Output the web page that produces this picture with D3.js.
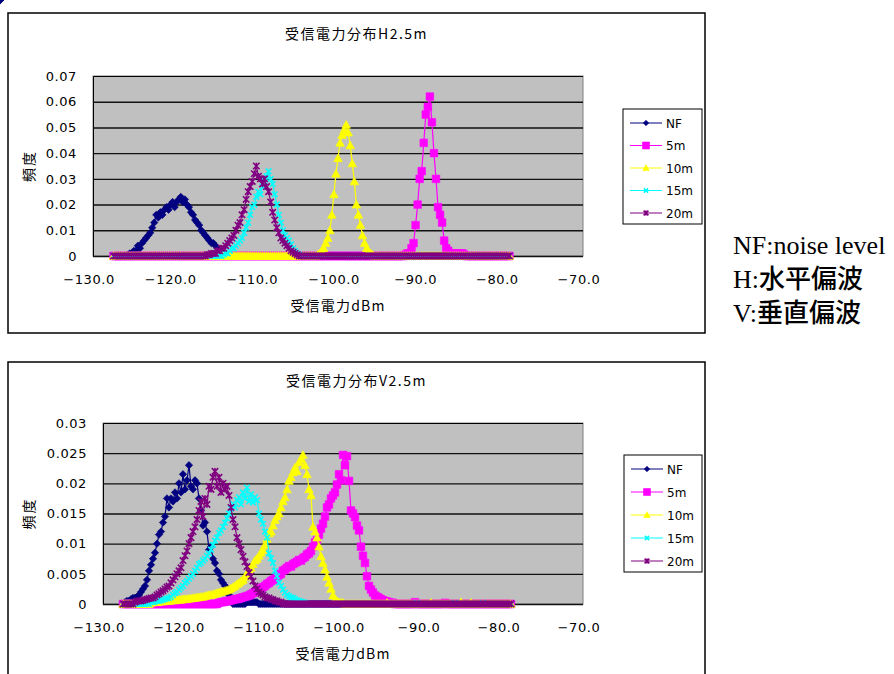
<!DOCTYPE html>
<html>
<head>
<meta charset="utf-8" />
<script src="https://d3js.org/d3.v7.min.js"></script>
<style>
  body { margin: 0; background: #fff; }
  svg { display: block; }
  .tick text, .num { font-family: "DejaVu Sans", sans-serif; font-size: 13px; fill: #000; letter-spacing: 0.6px; }
  .jp { font-family: "Noto Sans CJK JP", sans-serif; fill: #000; }
  .leg { font-family: "DejaVu Sans", sans-serif; font-size: 12px; fill: #000; }
</style>
</head>
<body>
<svg width="894" height="674"></svg>
<script>
// received power bins (dBm), shared by both charts
const dbm = [
  -127.5,-127.25,-127,-126.75,-126.5,-126.25,-126,-125.75,
  -125.5,-125.25,-125,-124.75,-124.5,-124.25,-124,-123.75,
  -123.5,-123.25,-123,-122.75,-122.5,-122.25,-122,-121.75,
  -121.5,-121.25,-121,-120.75,-120.5,-120.25,-120,-119.75,
  -119.5,-119.25,-119,-118.75,-118.5,-118.25,-118,-117.75,
  -117.5,-117.25,-117,-116.75,-116.5,-116.25,-116,-115.75,
  -115.5,-115.25,-115,-114.75,-114.5,-114.25,-114,-113.75,
  -113.5,-113.25,-113,-112.75,-112.5,-112.25,-112,-111.75,
  -111.5,-111.25,-111,-110.75,-110.5,-110.25,-110,-109.75,
  -109.5,-109.25,-109,-108.75,-108.5,-108.25,-108,-107.75,
  -107.5,-107.25,-107,-106.75,-106.5,-106.25,-106,-105.75,
  -105.5,-105.25,-105,-104.75,-104.5,-104.25,-104,-103.75,
  -103.5,-103.25,-103,-102.75,-102.5,-102.25,-102,-101.75,
  -101.5,-101.25,-101,-100.75,-100.5,-100.25,-100,-99.75,
  -99.5,-99.25,-99,-98.75,-98.5,-98.25,-98,-97.75,
  -97.5,-97.25,-97,-96.75,-96.5,-96.25,-96,-95.75,
  -95.5,-95.25,-95,-94.75,-94.5,-94.25,-94,-93.75,
  -93.5,-93.25,-93,-92.75,-92.5,-92.25,-92,-91.75,
  -91.5,-91.25,-91,-90.75,-90.5,-90.25,-90,-89.75,
  -89.5,-89.25,-89,-88.75,-88.5,-88.25,-88,-87.75,
  -87.5,-87.25,-87,-86.75,-86.5,-86.25,-86,-85.75,
  -85.5,-85.25,-85,-84.75,-84.5,-84.25,-84,-83.75,
  -83.5,-83.25,-83,-82.75,-82.5,-82.25,-82,-81.75,
  -81.5,-81.25,-81,-80.75,-80.5,-80.25,-80,-79.75,
  -79.5,-79.25,-79
];

const seriesNames = ["NF", "5m", "10m", "15m", "20m"];

const xTicks = [-130, -120, -110, -100, -90, -80, -70];
const xTickLabels = ["\u2212130.0", "\u2212120.0", "\u2212110.0", "\u2212100.0", "\u221290.0", "\u221280.0", "\u221270.0"];

const yTicksH = [0, 0.01, 0.02, 0.03, 0.04, 0.05, 0.06, 0.07];
const yTickLabelsH = ["0", "0.01", "0.02", "0.03", "0.04", "0.05", "0.06", "0.07"];
const yTicksV = [0, 0.005, 0.01, 0.015, 0.02, 0.025, 0.03];
const yTickLabelsV = ["0", "0.005", "0.01", "0.015", "0.02", "0.025", "0.03"];

// ---- H polarisation (top chart) ----
const nfH = [
  0,0,0,0,0,0,0,0.0005,
  0.001,0.001,0.002,0.002,0.004,0.003,0.005,0.006,
  0.007,0.008,0.009,0.011,0.013,0.016,0.015,0.017,
  0.016,0.018,0.019,0.018,0.020,0.021,0.019,0.021,
  0.022,0.023,0.021,0.022,0.020,0.019,0.017,0.016,
  0.014,0.013,0.012,0.010,0.009,0.008,0.007,0.006,
  0.005,0.005,0.004,0.003,0.002,0.001,0.0005,0,
  0,0,0,0,0,0,0,0,
  0,0,0,0,0,0,0,0,
  0,0,0,0,0,0,0,0,
  0,0,0,0,0,0,0,0,
  0,0,0,0,0,0,0,0,
  0,0,0,0,0,0,0,0,
  0,0,0,0,0,0,0,0,
  0,0,0,0,0,0,0,0,
  0,0,0,0,0,0,0,0,
  0,0,0,0,0,0,0,0,
  0,0,0,0,0,0,0,0,
  0,0,0,0,0,0,0,0,
  0,0,0,0,0,0,0,0,
  0,0,0,0,0,0,0,0,
  0,0,0,0,0,0,0,0,
  0,0,0,0,0,0,0,0,
  0,0,0
];
const m5H = [
  0,0,0,0,0,0,0,0,
  0,0,0,0,0,0,0,0,
  0,0,0,0,0,0,0,0,
  0,0,0,0,0,0,0,0,
  0,0,0,0,0,0,0,0,
  0,0,0,0,0,0,0,0,
  0,0,0,0,0,0,0,0,
  0,0,0,0,0,0,0,0,
  0,0,0,0,0,0,0,0,
  0,0,0,0,0,0,0,0,
  0,0,0,0,0,0,0,0,
  0,0,0,0,0,0,0,0,
  0,0,0,0,0,0,0,0,
  0,0,0,0,0,0,0,0,
  0,0,0,0,0,0,0,0,
  0,0,0,0,0,0,0,0,
  0,0,0,0,0,0,0,0,
  0,0,0,0,0,0,0,0.0005,
  0.001,0.001,0.003,0.005,0.012,0.020,0.030,0.033,
  0.044,0.055,0.058,0.062,0.052,0.040,0.030,0.019,
  0.016,0.013,0.006,0.003,0.002,0.001,0.001,0.001,
  0.001,0.001,0.001,0.001,0.0005,0,0,0,
  0,0,0,0,0,0,0,0,
  0,0,0,0,0,0,0,0,
  0,0,0
];
const m10H = [
  0,0,0,0,0,0,0,0,
  0,0,0,0,0,0,0,0,
  0,0,0,0,0,0,0,0,
  0,0,0,0,0,0,0,0,
  0,0,0,0,0,0,0,0,
  0,0,0,0,0,0,0,0,
  0,0,0,0,0,0,0,0,
  0,0,0,0,0,0,0,0,
  0,0,0,0,0,0,0,0,
  0,0,0,0,0,0,0,0,
  0,0,0,0,0,0,0,0,
  0,0,0,0,0,0,0,0,
  0,0,0,0,0.0005,0.001,0.002,0.003,
  0.005,0.007,0.010,0.016,0.024,0.032,0.038,0.044,
  0.047,0.049,0.051,0.048,0.043,0.036,0.029,0.020,
  0.016,0.012,0.008,0.005,0.003,0.002,0.001,0.0005,
  0,0,0,0,0,0,0,0,
  0,0,0,0,0,0,0,0,
  0,0,0,0,0,0,0,0,
  0,0,0,0,0,0,0,0,
  0,0,0,0,0,0,0,0,
  0,0,0,0,0,0,0,0,
  0,0,0,0,0,0,0,0,
  0,0,0,0,0,0,0,0,
  0,0,0
];
const m15H = [
  0,0,0,0,0,0,0,0,
  0,0,0,0,0,0,0,0,
  0,0,0,0,0,0,0,0,
  0,0,0,0,0,0,0,0,
  0,0,0,0,0,0,0,0,
  0,0,0,0,0,0,0,0,
  0,0,0,0,0,0,0.0005,0.001,
  0.001,0.002,0.003,0.003,0.004,0.005,0.006,0.007,
  0.009,0.011,0.013,0.016,0.019,0.020,0.023,0.025,
  0.024,0.027,0.029,0.031,0.033,0.030,0.028,0.024,
  0.020,0.016,0.013,0.010,0.008,0.007,0.006,0.0045,
  0.003,0.002,0.001,0.0005,0,0,0,0,
  0,0,0,0,0,0,0,0,
  0,0,0,0,0,0,0,0,
  0,0,0,0,0,0,0,0,
  0,0,0,0,0,0,0,0,
  0,0,0,0,0,0,0,0,
  0,0,0,0,0,0,0,0,
  0,0,0,0,0,0,0,0,
  0,0,0,0,0,0,0,0,
  0,0,0,0,0,0,0,0,
  0,0,0,0,0,0,0,0,
  0,0,0,0,0,0,0,0,
  0,0,0,0,0,0,0,0,
  0,0,0
];
const m20H = [
  0,0,0,0,0,0,0,0,
  0,0,0,0,0,0,0,0,
  0,0,0,0,0,0,0,0,
  0,0,0,0,0,0,0,0,
  0,0,0,0,0,0,0,0,
  0,0,0,0,0,0,0.0005,0.0005,
  0.001,0.001,0.001,0.002,0.002,0.003,0.003,0.004,
  0.005,0.006,0.007,0.008,0.010,0.012,0.013,0.016,
  0.018,0.022,0.025,0.027,0.029,0.032,0.035,0.031,
  0.030,0.028,0.030,0.027,0.025,0.021,0.017,0.014,
  0.011,0.009,0.007,0.006,0.005,0.004,0.003,0.002,
  0.0015,0.001,0.0005,0,0,0,0,0,
  0,0,0,0,0,0,0,0,
  0,0,0,0,0,0,0,0,
  0,0,0,0,0,0,0,0,
  0,0,0,0,0,0,0,0,
  0,0,0,0,0,0,0,0,
  0,0,0,0,0,0,0,0,
  0,0,0,0,0,0,0,0,
  0,0,0,0,0,0,0,0,
  0,0,0,0,0,0,0,0,
  0,0,0,0,0,0,0,0,
  0,0,0,0,0,0,0,0,
  0,0,0,0,0,0,0,0,
  0,0,0
];

// ---- V polarisation (bottom chart) ----
const nfV = [
  0,0.0003,0.0005,0.0005,0.0008,0.001,0.001,0.0012,
  0.0015,0.002,0.0025,0.003,0.004,0.0055,0.0065,0.0075,
  0.0085,0.010,0.0115,0.012,0.0135,0.0145,0.0175,0.016,
  0.0175,0.017,0.0185,0.0175,0.020,0.0185,0.0215,0.019,
  0.0205,0.023,0.0195,0.019,0.0205,0.020,0.0175,0.0155,
  0.013,0.0135,0.012,0.009,0.0095,0.0075,0.0068,0.0055,
  0.005,0.004,0.0035,0.003,0.0027,0.0015,0.0005,0,
  0,0,0,0,0,0,0.0003,0.0003,
  0.0003,0.0003,0.0003,0.0003,0,0,0,0,
  0,0,0,0,0,0,0,0,
  0,0,0,0,0,0,0,0,
  0,0,0,0,0,0,0,0,
  0,0,0,0,0,0,0,0,
  0,0,0,0,0,0,0,0,
  0,0,0,0,0,0,0,0,
  0,0,0,0,0,0,0,0,
  0,0,0,0,0,0,0,0,
  0,0,0,0,0,0,0,0,
  0,0,0,0,0,0,0,0,
  0,0,0,0,0,0,0,0,
  0,0,0,0,0,0,0,0,
  0,0,0,0,0,0,0,0,
  0,0,0,0,0,0,0,0,
  0,0,0,0,0,0,0,0,
  0,0,0
];
const m5V = [
  0,0,0,0,0,0,0,0,
  0,0,0,0,0,0,0,0,
  0,0,0,0,0,0,0,0,
  0,0,0,0,0,0,0,0,
  0,0,0,0,0,0,0,0,
  0,0,0,0,0,0,0,0,
  0.0002,0.0003,0.0003,0.0004,0.0005,0.0005,0.0006,0.0007,
  0.0008,0.0008,0.0009,0.001,0.0011,0.0012,0.0013,0.0014,
  0.0016,0.0018,0.002,0.0022,0.0024,0.0026,0.0028,0.003,
  0.0033,0.0035,0.0038,0.004,0.0042,0.0046,0.0048,0.005,
  0.0055,0.0057,0.006,0.0063,0.0062,0.0066,0.0068,0.007,
  0.0073,0.0072,0.0076,0.0078,0.0082,0.0084,0.0088,0.0095,
  0.0102,0.0106,0.0115,0.0125,0.0133,0.0145,0.016,0.0165,
  0.0175,0.018,0.0185,0.0198,0.0215,0.0205,0.0247,0.023,
  0.0245,0.0204,0.0155,0.015,0.0144,0.013,0.0122,0.0095,
  0.008,0.0068,0.0046,0.003,0.0024,0.0019,0.0014,0.0012,
  0.001,0.0008,0.0006,0.0005,0.0004,0.0003,0.0002,0.0002,
  0,0,0,0,0,0,0,0,
  0,0,0.0003,0,0,0,0,0,
  0,0,0,0,0,0,0,0,
  0,0.0002,0,0,0,0,0,0,
  0,0,0,0,0,0,0,0,
  0,0,0,0,0,0,0,0,
  0,0,0,0,0,0,0,0,
  0,0,0
];
const m10V = [
  0,0,0,0,0,0,0,0,
  0,0,0,0,0,0,0.0002,0.0003,
  0.0003,0.0003,0.0004,0.0004,0.0004,0.0005,0.0005,0.0005,
  0.0006,0.0006,0.0006,0.0007,0.0007,0.0007,0.0008,0.0008,
  0.0008,0.0009,0.0009,0.001,0.001,0.0011,0.0011,0.0012,
  0.0012,0.0013,0.0014,0.0015,0.0015,0.0016,0.0017,0.0018,
  0.0019,0.002,0.0021,0.0022,0.0023,0.0024,0.0026,0.0028,
  0.003,0.0033,0.0035,0.0038,0.004,0.0045,0.005,0.0057,
  0.006,0.0066,0.0072,0.0075,0.008,0.0085,0.009,0.0098,
  0.0108,0.0117,0.012,0.013,0.0139,0.0145,0.015,0.016,
  0.017,0.0177,0.019,0.0204,0.021,0.0218,0.0226,0.022,
  0.0235,0.024,0.0247,0.023,0.0215,0.019,0.018,0.0128,
  0.012,0.011,0.0095,0.0079,0.0068,0.0057,0.0045,0.0035,
  0.0025,0.0014,0.0008,0.0005,0.0003,0.0002,0.0002,0,
  0,0,0,0,0,0,0,0,
  0,0,0,0,0,0,0,0,
  0,0,0,0,0.0002,0,0,0,
  0,0,0,0,0,0,0,0,
  0,0,0,0,0,0,0,0,
  0,0,0.0002,0,0,0,0,0,
  0,0,0,0,0,0,0,0,
  0,0.0003,0,0,0,0,0.0002,0,
  0,0,0,0,0,0,0,0,
  0,0,0,0,0,0,0,0,
  0,0,0
];
const m15V = [
  0,0,0,0,0,0,0,0,
  0,0,0,0,0,0,0.0003,0.0003,
  0.0004,0.0005,0.0005,0.0006,0.0007,0.0008,0.0009,0.001,
  0.0012,0.0015,0.0018,0.002,0.0024,0.0027,0.003,0.0035,
  0.0038,0.0042,0.0046,0.005,0.0055,0.006,0.0066,0.0068,
  0.0072,0.0075,0.008,0.0084,0.009,0.0098,0.0105,0.011,
  0.0118,0.0122,0.0128,0.0135,0.0142,0.015,0.0158,0.0166,
  0.016,0.0172,0.0177,0.0165,0.0185,0.0175,0.0193,0.017,
  0.0182,0.0168,0.0177,0.0172,0.015,0.014,0.0133,0.012,
  0.011,0.0084,0.0076,0.0068,0.0055,0.0046,0.0035,0.003,
  0.0024,0.0019,0.0015,0.0013,0.0011,0.001,0.0008,0.0006,
  0.0005,0.0004,0.0003,0.0002,0,0,0,0,
  0,0,0,0,0,0,0,0,
  0,0,0,0,0,0,0,0,
  0,0,0,0,0,0,0,0,
  0,0,0,0,0,0,0,0,
  0,0,0,0,0,0,0,0,
  0,0,0,0,0,0,0,0,
  0,0,0,0.0002,0,0,0,0,
  0,0,0,0,0,0,0,0,
  0,0,0,0,0,0,0.0002,0,
  0,0,0,0,0,0,0,0,
  0,0,0,0,0.0002,0,0,0,
  0,0,0,0,0,0,0,0,
  0,0,0
];
const m20V = [
  0,0,0,0,0,0,0.0003,0.0005,
  0.0005,0.0005,0.0006,0.0007,0.0008,0.0009,0.001,0.001,
  0.0012,0.0015,0.0017,0.002,0.0022,0.0025,0.0028,0.003,
  0.0035,0.004,0.0045,0.005,0.0055,0.006,0.0072,0.008,
  0.0088,0.010,0.011,0.012,0.0128,0.014,0.0155,0.017,
  0.0145,0.0175,0.0165,0.0195,0.019,0.021,0.022,0.0195,
  0.021,0.0185,0.020,0.019,0.0195,0.018,0.016,0.014,
  0.0128,0.011,0.010,0.009,0.0079,0.007,0.0062,0.0052,
  0.0046,0.0038,0.003,0.0025,0.002,0.0017,0.0015,0.0012,
  0.001,0.001,0.0008,0.0007,0.0005,0.0005,0.0003,0.0003,
  0,0,0,0,0,0,0,0,
  0,0,0,0,0,0,0,0,
  0,0,0,0,0,0,0,0,
  0,0,0,0,0,0,0,0,
  0,0,0,0,0,0,0,0,
  0,0,0,0,0,0,0,0,
  0,0,0,0,0,0,0,0,
  0,0,0,0,0,0,0,0,
  0,0,0,0,0,0,0,0,
  0,0,0,0,0,0,0,0,
  0,0,0,0,0,0,0,0,
  0,0,0,0,0,0,0,0,
  0,0,0,0,0,0,0,0,
  0,0,0,0,0,0,0,0,
  0,0,0
];

// styles per series (Excel 97 defaults)
const colors = ["#000080", "#FF00FF", "#FFFF00", "#00FFFF", "#800080"];
const shapes = ["diamond", "square", "triangle", "x", "star"];
const sizes = [3.7, 3.8, 4.3, 2.8, 3.2];

function shapePath(kind, s) {
  switch (kind) {
    case "diamond": return `M0,${-s}L${s},0L0,${s}L${-s},0Z`;
    case "square": return `M${-s},${-s}H${s}V${s}H${-s}Z`;
    case "triangle": return `M0,${-s}L${s},${s * 0.8}L${-s},${s * 0.8}Z`;
    case "x": return `M${-s},${-s}L${s},${s}M${-s},${s}L${s},${-s}`;
    case "star": return `M${-s},${-s}L${s},${s}M${-s},${s}L${s},${-s}M0,${-s}V${s}`;
  }
}
function styleMarker(sel, i) {
  const open = shapes[i] === "x" || shapes[i] === "star";
  sel.attr("fill", open ? "none" : colors[i])
    .attr("stroke", colors[i])
    .attr("stroke-width", open ? 1.6 : 0.6);
}

const svg = d3.select("svg");

const charts = [
  { title: "受信電力分布H2.5m", box: { x: 8, y: 13, w: 697, h: 320 },
    plot: { x: 93, y: 76, w: 490, h: 180 }, yMax: 0.07,
    yTicks: yTicksH, yLabels: yTickLabelsH,
    series: [nfH, m5H, m10H, m15H, m20H], legend: { x: 623, y: 109, w: 79, h: 115 } },
  { title: "受信電力分布V2.5m", box: { x: 8, y: 362, w: 697, h: 330 },
    plot: { x: 103, y: 423, w: 480, h: 181 }, yMax: 0.03,
    yTicks: yTicksV, yLabels: yTickLabelsV,
    series: [nfV, m5V, m10V, m15V, m20V], legend: { x: 624, y: 455, w: 78, h: 117 } }
];

charts.forEach(c => {
  const p = c.plot;
  // outer chart frame
  svg.append("rect")
    .attr("x", c.box.x).attr("y", c.box.y).attr("width", c.box.w).attr("height", c.box.h)
    .attr("fill", "#fff").attr("stroke", "#000").attr("stroke-width", 1.5);

  const x = d3.scaleLinear().domain([-130, -70]).range([p.x, p.x + p.w]);
  const y = d3.scaleLinear().domain([0, c.yMax]).range([p.y + p.h, p.y]);

  // plot area
  svg.append("rect")
    .attr("x", p.x).attr("y", p.y).attr("width", p.w).attr("height", p.h)
    .attr("fill", "#C0C0C0").attr("stroke", "#808080").attr("stroke-width", 1);

  // y axis with gridlines
  const yAxisG = svg.append("g")
    .attr("transform", `translate(${p.x},0)`)
    .call(d3.axisLeft(y).tickValues(c.yTicks)
      .tickFormat((d, i) => c.yLabels[i])
      .tickSize(-p.w).tickPadding(16));
  yAxisG.select(".domain").attr("stroke", "#000");
  yAxisG.selectAll(".tick line")
    .attr("stroke", "#111").attr("stroke-width", 1.4)
    .attr("display", d => (d === c.yMax ? "none" : null));

  // x tick labels (no tick marks in the original)
  svg.selectAll(null).data(xTicks).join("text")
    .attr("class", "num")
    .attr("x", d => x(d) - 4)
    .attr("y", p.y + p.h + 28)
    .attr("text-anchor", "middle")
    .text((d, i) => xTickLabels[i]);

  // titles
  svg.append("text").attr("class", "jp")
    .attr("x", c.box.x + c.box.w / 2).attr("y", p.y - 37)
    .attr("text-anchor", "middle").style("font-size", "14px").style("letter-spacing", "1.5px")
    .text(c.title);
  svg.append("text").attr("class", "jp")
    .attr("x", p.x + p.w / 2).attr("y", p.y + p.h + 55)
    .attr("text-anchor", "middle").style("font-size", "14px").style("letter-spacing", "1.2px")
    .text("受信電力dBm");
  svg.append("text").attr("class", "jp")
    .attr("transform", `translate(34,${p.y + p.h / 2}) rotate(-90)`)
    .attr("text-anchor", "middle").style("font-size", "14px").style("letter-spacing", "2px")
    .text("頻度");

  // series
  const line = d3.line().x(d => x(d[0])).y(d => y(d[1]));
  c.series.forEach((vals, i) => {
    const pts = dbm.map((d, k) => [d, vals[k]]);
    svg.append("path").datum(pts)
      .attr("d", line).attr("fill", "none")
      .attr("stroke", colors[i]).attr("stroke-width", 1.2);
    svg.append("g").selectAll("path").data(pts).join("path")
      .attr("transform", d => `translate(${x(d[0])},${y(d[1])})`)
      .attr("d", shapePath(shapes[i], sizes[i]))
      .call(styleMarker, i);
  });

  // legend
  const L = c.legend;
  svg.append("rect").attr("x", L.x).attr("y", L.y).attr("width", L.w).attr("height", L.h)
    .attr("fill", "#fff").attr("stroke", "#000").attr("stroke-width", 1);
  const ly = d3.scaleLinear().domain([0, 4]).range([L.y + 14, L.y + L.h - 11]);
  seriesNames.forEach((name, i) => {
    const yy = ly(i);
    svg.append("line").attr("x1", L.x + 7).attr("x2", L.x + 39).attr("y1", yy).attr("y2", yy)
      .attr("stroke", colors[i]).attr("stroke-width", 1);
    svg.append("path").attr("transform", `translate(${L.x + 23},${yy})`)
      .attr("d", shapePath(shapes[i], i === 1 ? 3.5 : sizes[i] * 0.75))
      .call(styleMarker, i);
    svg.append("text").attr("class", "leg")
      .attr("x", L.x + 43).attr("y", yy + 4.5).text(name);
  });
});

// side note
const notes = [["NF:", "noise level"], ["H:", "水平偏波"], ["V:", "垂直偏波"]];
notes.forEach((n, i) => {
  const t = svg.append("text").attr("x", 733).attr("y", 254 + i * 34)
    .style("font-size", "26px").style("fill", "#000");
  t.append("tspan").style("font-family", "'Liberation Serif', serif").text(n[0]);
  t.append("tspan")
    .style("font-family", i === 0 ? "'Liberation Serif', serif" : "'Noto Sans CJK JP', sans-serif")
    .style("font-weight", i === 0 ? null : 500)
    .text(n[1]);
});
</script>
</body>
</html>
